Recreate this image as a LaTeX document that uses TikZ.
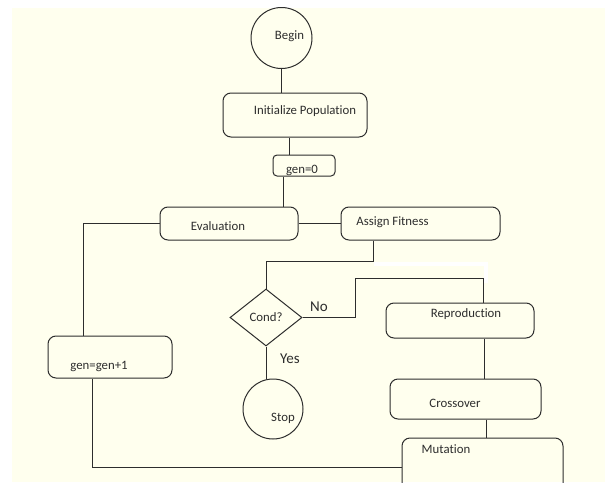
\documentclass[tikz,border=0pt]{standalone}
\usepackage{fontspec}
\setmainfont{Carlito}[Ligatures=NoCommon]
\usepackage{tikz}
\usetikzlibrary{positioning,shapes.geometric}

\definecolor{paper}{RGB}{255,255,238}
\definecolor{ink}{RGB}{45,45,45}

\begin{document}
\begin{tikzpicture}[x=1pt,y=-1pt,line width=1pt,draw=ink,
    font=\fontsize{12.8}{14}\selectfont,text=ink,
    every label/.style={font=\fontsize{12.8}{14}\selectfont,text=ink}]
  \tikzstyle{box}=[draw=ink,line width=1pt,rounded corners=8pt,inner sep=0pt]
  \tikzstyle{term}=[circle,draw=ink,line width=1pt,inner sep=0pt]
  \tikzstyle{test}=[diamond,draw=ink,line width=1pt,inner sep=0pt]
  \tikzstyle{lbl}=[font=\fontsize{15}{17}\selectfont,text=ink,inner sep=0pt]

  % page
  \useasboundingbox (0,0) rectangle (605,482);
  \fill[white] (0,0) rectangle (605,482);
  \fill[paper] (12,8) rectangle (605,482);

  % main column
  \node[term,minimum size=61,label={[shift={(8,-2)}]center:Begin}] (begin) at (281.5,38) {};
  \node[box,minimum width=144,minimum height=44,label={[shift={(10,-4)}]center:Initialize Population}] (init) at (295,115) {};
  \node[box,rounded corners=4pt,minimum width=62,minimum height=21,label={[shift={(-2,4.5)}]center:gen=0}] (gen0) at (304,165.5) {};
  \node[box,minimum width=138,minimum height=33,label={[shift={(-11,2.5)}]center:Evaluation}] (eval) at (229,223.5) {};
  \node[box,minimum width=159,minimum height=33,label={[shift={(-28,-1.5)}]center:Assign Fitness}] (fit) at (420.5,223.5) {};

  % test and stop
  \node[test,minimum width=72,minimum height=57] (cond) at (266,317.5) {Cond?};
  \node[term,minimum size=60,label={[shift={(10,9)}]center:Stop}] (stop) at (273,409) {};
  \node[lbl] (no) at (319,307) {No};
  \node[lbl] (yes) at (290,359) {Yes};

  % operators
  \node[box,minimum width=148,minimum height=35,label={[shift={(6,-6.5)}]center:Reproduction}] (repro) at (460,320.5) {};
  \node[box,minimum width=151,minimum height=40,label={[shift={(-10.5,4)}]center:Crossover}] (cross) at (465.5,399) {};
  \node[box,minimum width=161,minimum height=54,label={[shift={(-36.5,-16)}]center:Mutation}] (mut) at (482.5,465) {};
  \node[box,minimum width=124,minimum height=42,label={[shift={(-11,9)}]center:gen=gen+1}] (gen1) at (110,357) {};

  % connectors
  \draw (begin.south) -- (begin.south |- init.north);
  \draw ([xshift=-6pt]init.south) -- ([xshift=-6pt]init.south |- gen0.north);
  \draw ([xshift=-21pt]gen0.south) -- ([xshift=-21pt]gen0.south |- eval.north);
  \draw (eval.east) -- (eval.east -| fit.west);
  \draw ([xshift=-47.5pt]fit.south) |- ([yshift=27pt]cond.north) -- (cond.north);
  \draw (cond.east) -- ++(53,0) |- ([xshift=23pt,yshift=24pt]repro.north) -- ([xshift=23pt]repro.north);
  \draw (cond.south) -- (cond.south |- stop.north);
  \draw ([xshift=24pt]repro.south) -- ([xshift=24pt]repro.south |- cross.north);
  \draw ([xshift=20.5pt]cross.south) -- ([xshift=20.5pt]cross.south |- mut.north);
  \draw ([yshift=-2pt]mut.west) -| ([xshift=-18pt]gen1.south);
  \draw ([xshift=-27pt]gen1.north) |- (eval.west);

  % erased strip
  \draw[white,line width=4pt] (374,264) -- (486,264) -- (486,283);
\end{tikzpicture}
\end{document}
